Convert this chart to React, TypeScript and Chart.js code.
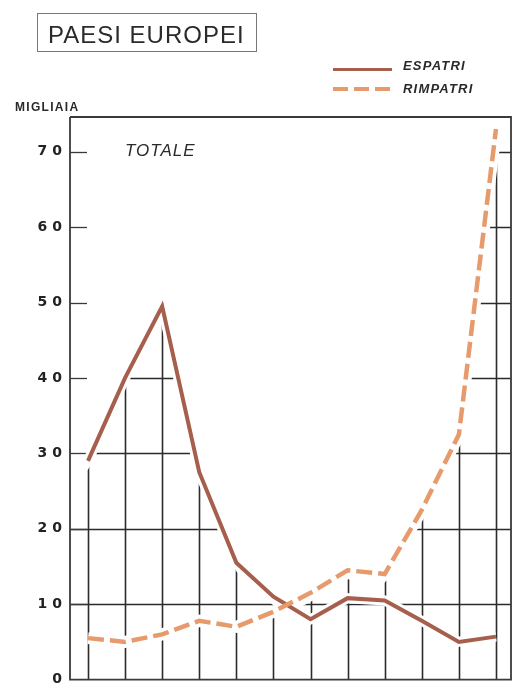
import React, { useEffect, useRef } from "react";
import { Chart, registerables } from "chart.js";

Chart.register(...registerables);

// ---- data (thousands) ----
const periods = [1, 2, 3, 4, 5, 6, 7, 8, 9, 10, 11, 12];
const espatri = [29, 40, 49.5, 27.5, 15.5, 11, 8, 10.8, 10.5, 7.8, 5, 5.7];
const rimpatri = [5.5, 5, 6, 7.8, 7, 9, 11.5, 14.5, 14, 22.5, 32.5, 73];
const yTicks = [0, 10, 20, 30, 40, 50, 60, 70];

const ESP_COLOR = "#a65f4d";
const RIM_COLOR = "#e79a6c";
const INK = "#2b2b2b";

function interp(series: number[], v: number): number {
  const first = periods[0];
  const last = periods[periods.length - 1];
  if (v <= first) return series[0];
  if (v >= last) return series[series.length - 1];
  const i = Math.floor(v - first);
  const t = v - first - i;
  return series[i] + (series[i + 1] - series[i]) * t;
}

const paperGrid = {
  id: "paperGrid",
  beforeDraw(chart: any) {
    chart.ctx.letterSpacing = "5px";
  },
  beforeDatasetsDraw(chart: any) {
    const { ctx, chartArea: a, scales } = chart;
    const x = scales.x;
    const y = scales.y;
    const env = (px: number) => {
      const v = x.getValueForPixel(px);
      return y.getPixelForValue(Math.max(interp(espatri, v), interp(rimpatri, v)));
    };
    ctx.save();
    ctx.letterSpacing = "0px";
    ctx.beginPath();
    ctx.moveTo(a.left, a.bottom);
    for (let px = a.left; px <= a.right; px += 1) ctx.lineTo(px, env(px) + 9);
    ctx.lineTo(a.right, a.bottom);
    ctx.closePath();
    ctx.clip();
    ctx.strokeStyle = INK;
    ctx.lineWidth = 1.6;
    periods.forEach((p) => {
      const px = Math.round(x.getPixelForValue(p)) + 0.5;
      ctx.beginPath();
      ctx.moveTo(px, a.top);
      ctx.lineTo(px, a.bottom);
      ctx.stroke();
    });
    yTicks.forEach((t) => {
      if (t === 0) return;
      const py = Math.round(y.getPixelForValue(t)) + 0.5;
      ctx.beginPath();
      ctx.moveTo(a.left, py);
      ctx.lineTo(a.right, py);
      ctx.stroke();
    });
    ctx.restore();

    // frame and tick marks
    ctx.save();
    ctx.strokeStyle = "#3a3a3a";
    ctx.lineWidth = 1.8;
    ctx.beginPath();
    ctx.moveTo(a.left, a.top);
    ctx.lineTo(a.left, a.bottom);
    ctx.lineTo(a.right, a.bottom);
    ctx.lineTo(a.right, a.top);
    ctx.lineTo(a.left, a.top);
    ctx.stroke();
    ctx.lineWidth = 1.3;
    yTicks.forEach((t) => {
      if (t === 0) return;
      const py = Math.round(y.getPixelForValue(t)) + 0.5;
      ctx.beginPath();
      ctx.moveTo(a.left, py);
      ctx.lineTo(a.left + 17, py);
      ctx.stroke();
    });
    ctx.restore();
  },
  afterDraw(chart: any) {
    chart.ctx.letterSpacing = "0px";
  },
};

export default function App() {
  const ref = useRef<HTMLCanvasElement | null>(null);

  useEffect(() => {
    if (!ref.current) return;
    const chart = new Chart(ref.current, {
      type: "line",
      data: {
        datasets: [
          {
            label: "RIMPATRI",
            data: periods.map((p, i) => ({ x: p, y: rimpatri[i] })),
            borderColor: RIM_COLOR,
            borderWidth: 4.5,
            borderDash: [16, 6],
            borderCapStyle: "butt",
            pointRadius: 0,
            tension: 0,
            order: 0,
          },
          {
            label: "ESPATRI",
            data: periods.map((p, i) => ({ x: p, y: espatri[i] })),
            borderColor: ESP_COLOR,
            borderWidth: 4,
            pointRadius: 0,
            tension: 0,
            order: 0,
          },
          {
            label: "halo-r",
            data: periods.map((p, i) => ({ x: p, y: rimpatri[i] })),
            borderColor: "#ffffff",
            borderWidth: 12,
            pointRadius: 0,
            tension: 0,
            order: 1,
          },
          {
            label: "halo-e",
            data: periods.map((p, i) => ({ x: p, y: espatri[i] })),
            borderColor: "#ffffff",
            borderWidth: 10,
            pointRadius: 0,
            tension: 0,
            order: 1,
          },
        ],
      },
      options: {
        animation: false,
        responsive: false,
        devicePixelRatio: 1,
        layout: { padding: { top: 117, bottom: 11, left: 0, right: 5 } },
        plugins: { legend: { display: false }, tooltip: { enabled: false } },
        scales: {
          x: {
            type: "linear",
            display: false,
            min: 0.515,
            max: 12.405,
          },
          y: {
            type: "linear",
            min: 0,
            max: 74.6,
            afterBuildTicks: (scale: any) => {
              scale.ticks = yTicks.map((v) => ({ value: v }));
            },
            afterFit: (scale: any) => {
              scale.width = 70;
            },
            grid: { display: false, drawTicks: false },
            border: { display: false },
            ticks: {
              padding: 3,
              color: "#222",
              font: { family: "DejaVu Sans", size: 14, weight: "bold" },
            },
          },
        },
      },
      plugins: [paperGrid],
    } as any);
    return () => chart.destroy();
  }, []);

  const txt = (extra: React.CSSProperties): React.CSSProperties => ({
    position: "absolute",
    fontFamily: "'Liberation Sans', Arial, sans-serif",
    lineHeight: 1,
    whiteSpace: "nowrap",
    color: "#2a2a2a",
    ...extra,
  });

  return (
    <div style={{ position: "absolute", left: 0, top: 0, width: 516, height: 691, background: "#fff" }}>
      <canvas ref={ref} width={516} height={691} style={{ position: "absolute", left: 0, top: 0 }} />
      <div
        style={{
          position: "absolute",
          left: 37,
          top: 13,
          width: 218,
          height: 37,
          border: "1.5px solid #777",
        }}
      />
      <span style={txt({ left: 48, top: 23, fontSize: 24, letterSpacing: 1 })}>PAESI EUROPEI</span>
      <div style={{ position: "absolute", left: 333, top: 67.5, width: 59, height: 3, background: ESP_COLOR }} />
      <div
        style={{
          position: "absolute",
          left: 333,
          top: 87,
          width: 59,
          height: 4,
          background: `repeating-linear-gradient(to right, ${RIM_COLOR} 0px, ${RIM_COLOR} 15px, transparent 15px, transparent 21px)`,
        }}
      />
      <span style={txt({ left: 403, top: 59, fontSize: 13, fontWeight: "bold", fontStyle: "italic", letterSpacing: 1.2 })}>
        ESPATRI
      </span>
      <span style={txt({ left: 403, top: 82, fontSize: 13, fontWeight: "bold", fontStyle: "italic", letterSpacing: 1.2 })}>
        RIMPATRI
      </span>
      <span style={txt({ left: 15, top: 101, fontSize: 12, fontWeight: "bold", letterSpacing: 1.3 })}>MIGLIAIA</span>
      <span style={txt({ left: 125, top: 142, fontSize: 17, fontStyle: "italic", letterSpacing: 1 })}>TOTALE</span>
    </div>
  );
}
